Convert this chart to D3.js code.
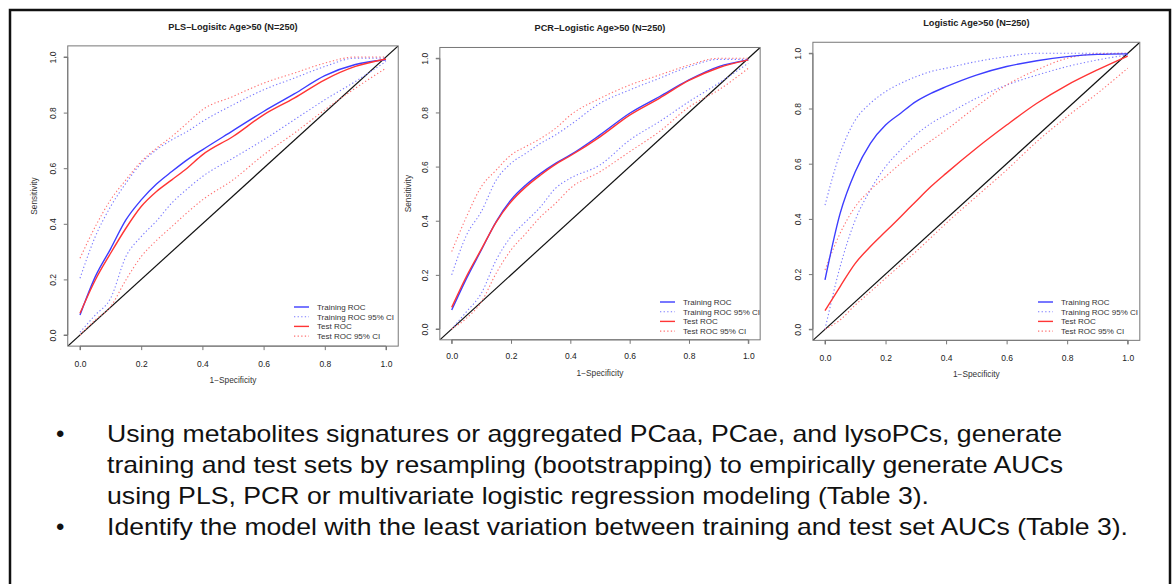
<!DOCTYPE html>
<html>
<head>
<meta charset="utf-8">
<script src="https://cdn.jsdelivr.net/npm/d3@7"></script>
<style>
  body { margin: 0; background: #fff; }
  svg { display: block; }
</style>
</head>
<body>
<svg id="chart" width="1173" height="584"></svg>
<script>
// false positive rate grid shared by every curve
const fpr = [0, 0.05, 0.1, 0.15, 0.2, 0.25, 0.3, 0.35, 0.4, 0.5, 0.6, 0.7, 0.8, 0.9, 1.0];
const ticks = [0, 0.2, 0.4, 0.6, 0.8, 1.0];

const titles = ["PLS\u2013Logisitc Age>50 (N=250)", "PCR\u2013Logistic Age>50 (N=250)", "Logistic Age>50 (N=250)"];
const legendLabels = ["Training ROC", "Training ROC 95% CI", "Test ROC", "Test ROC 95% CI"];

// PLS-logistic
const plsTrain   = [0.072, 0.21, 0.31, 0.414, 0.486, 0.543, 0.588, 0.63, 0.666, 0.735, 0.804, 0.867, 0.933, 0.973, 0.99];
const plsTest    = [0.078, 0.198, 0.294, 0.384, 0.462, 0.516, 0.558, 0.6, 0.648, 0.714, 0.792, 0.852, 0.918, 0.966, 0.993];
const plsTrainHi = [0.204, 0.354, 0.462, 0.546, 0.618, 0.666, 0.702, 0.732, 0.768, 0.828, 0.882, 0.924, 0.966, 0.996, 0.996];
const plsTrainLo = [0.01, 0.072, 0.132, 0.282, 0.354, 0.41, 0.475, 0.525, 0.57, 0.636, 0.702, 0.774, 0.846, 0.912, 0.984];
const plsTestHi  = [0.276, 0.39, 0.486, 0.558, 0.624, 0.672, 0.714, 0.762, 0.81, 0.858, 0.906, 0.942, 0.978, 1.0, 1.0];
const plsTestLo  = [0.0, 0.054, 0.102, 0.198, 0.282, 0.34, 0.39, 0.44, 0.486, 0.558, 0.648, 0.726, 0.81, 0.888, 0.96];

// PCR-logistic
const pcrTrain   = [0.07, 0.187, 0.292, 0.397, 0.477, 0.532, 0.575, 0.612, 0.643, 0.717, 0.797, 0.858, 0.92, 0.969, 0.994];
const pcrTest    = [0.08, 0.195, 0.295, 0.395, 0.47, 0.525, 0.569, 0.608, 0.64, 0.71, 0.79, 0.852, 0.918, 0.965, 0.994];
const pcrTrainHi = [0.2, 0.347, 0.434, 0.55, 0.612, 0.649, 0.686, 0.717, 0.754, 0.834, 0.883, 0.926, 0.969, 0.996, 0.996];
const pcrTrainLo = [0.0, 0.064, 0.132, 0.255, 0.341, 0.397, 0.452, 0.52, 0.557, 0.606, 0.698, 0.766, 0.84, 0.908, 0.982];
const pcrTestHi  = [0.286, 0.415, 0.526, 0.587, 0.643, 0.674, 0.704, 0.741, 0.79, 0.852, 0.901, 0.938, 0.975, 1.0, 1.0];
const pcrTestLo  = [0.0, 0.04, 0.1, 0.206, 0.292, 0.353, 0.415, 0.464, 0.52, 0.581, 0.655, 0.729, 0.82, 0.883, 0.963];

// multivariate logistic
const logTrain   = [0.179, 0.42, 0.571, 0.674, 0.74, 0.783, 0.825, 0.855, 0.879, 0.921, 0.952, 0.973, 0.988, 0.996, 0.998];
const logTest    = [0.068, 0.155, 0.239, 0.3, 0.354, 0.408, 0.463, 0.517, 0.565, 0.656, 0.74, 0.819, 0.885, 0.94, 0.99];
const logTrainHi = [0.45, 0.638, 0.758, 0.819, 0.861, 0.891, 0.915, 0.934, 0.946, 0.97, 0.988, 1.0, 1.0, 1.0, 1.0];
const logTrainLo = [0.0, 0.227, 0.396, 0.505, 0.589, 0.65, 0.704, 0.746, 0.777, 0.837, 0.885, 0.921, 0.952, 0.976, 0.994];
const logTestHi  = [0.215, 0.348, 0.444, 0.505, 0.553, 0.601, 0.644, 0.683, 0.722, 0.807, 0.885, 0.94, 0.982, 0.998, 1.0];
const logTestLo  = [0.0, 0.034, 0.088, 0.136, 0.185, 0.233, 0.281, 0.332, 0.384, 0.481, 0.577, 0.68, 0.771, 0.855, 0.946];

const bullets = [
  ["Using metabolites signatures or aggregated PCaa, PCae, and lysoPCs, generate",
   "training and test sets by resampling (bootstrapping) to empirically generate AUCs",
   "using PLS, PCR or multivariate logistic regression modeling (Table 3)."],
  ["Identify the model with the least variation between training and test set AUCs (Table 3)."]
];

const blue = "#3d3dff", red = "#ff3535";
const blueCI = "#7a7aff", redCI = "#ff7070";

// pixel spots of 0 and 1 on each panel's axes
const panels = [
  { title: titles[0], x0: 80, x1: 386, y0: 335, y1: 57, titleY: 30, ylabX: 34, xlabY: 383, tickLabX: 53, tickLabY: 364,
    legX: 294, legY: 307, series: [plsTrain, plsTrainHi, plsTrainLo, plsTest, plsTestHi, plsTestLo] },
  { title: titles[1], x0: 451.7, x1: 748.3, y0: 329, y1: 58.3, titleY: 31, ylabX: 408, xlabY: 376, tickLabX: 425, tickLabY: 356,
    legX: 660, legY: 302, series: [pcrTrain, pcrTrainHi, pcrTrainLo, pcrTest, pcrTestHi, pcrTestLo] },
  { title: titles[2], x0: 825, x1: 1127.7, y0: 329.3, y1: 53.3, titleY: 26, ylabX: 781, xlabY: 377, tickLabX: 798, tickLabY: 358,
    legX: 1038, legY: 302, series: [logTrain, logTrainHi, logTrainLo, logTest, logTestHi, logTestLo], clipYlab: true }
];

const svg = d3.select("#chart");
const font = "'Liberation Sans', Arial, sans-serif";

// outer slide frame
svg.append("path")
  .attr("d", "M10,600 L10,10 L1170,10 L1170,600")
  .attr("fill", "none").attr("stroke", "#111").attr("stroke-width", 2.5);

const styles = [
  { color: blue, dash: null, w: 1.4 },
  { color: blueCI, dash: "1.3,2.3", w: 1.1 },
  { color: blueCI, dash: "1.3,2.3", w: 1.1 },
  { color: red, dash: null, w: 1.4 },
  { color: redCI, dash: "1.3,2.3", w: 1.1 },
  { color: redCI, dash: "1.3,2.3", w: 1.1 }
];

panels.forEach((p, pi) => {
  const x = d3.scaleLinear().domain([0, 1]).range([p.x0, p.x1]);
  const y = d3.scaleLinear().domain([0, 1]).range([p.y0, p.y1]);
  const g = svg.append("g");
  const bx0 = x(-0.04), bx1 = x(1.04), by0 = y(-0.04), by1 = y(1.04);

  g.append("clipPath").attr("id", "clip" + pi)
    .append("rect").attr("x", bx0).attr("y", by1).attr("width", bx1 - bx0).attr("height", by0 - by1);

  const plot = g.append("g").attr("clip-path", `url(#clip${pi})`);

  // chance line
  plot.append("line")
    .attr("x1", x(-0.04)).attr("y1", y(-0.04)).attr("x2", x(1.04)).attr("y2", y(1.04))
    .attr("stroke", "#111").attr("stroke-width", 1.2);

  const line = d3.line().x((d, i) => x(fpr[i])).y(d => y(d)).curve(d3.curveMonotoneX);

  // draw CI first, then solid curves on top
  [1, 2, 4, 5, 0, 3].forEach(k => {
    plot.append("path")
      .attr("d", line(p.series[k]))
      .attr("fill", "none")
      .attr("stroke", styles[k].color)
      .attr("stroke-width", styles[k].w)
      .attr("stroke-dasharray", styles[k].dash);
  });

  // box
  g.append("rect").attr("x", bx0).attr("y", by1).attr("width", bx1 - bx0).attr("height", by0 - by1)
    .attr("fill", "none").attr("stroke", "#777").attr("stroke-width", 1);

  // x axis
  const xa = g.append("g").attr("transform", `translate(0,${by0})`)
    .call(d3.axisBottom(x).tickValues(ticks).tickFormat(d3.format(".1f")).tickSize(4).tickPadding(6));
  xa.select(".domain").attr("stroke", "#777").attr("d", `M${x(0)},4V0H${x(1)}V4`);
  xa.selectAll(".tick line").attr("stroke", "#777");
  xa.selectAll("text").attr("font-family", font).attr("font-size", 8.5).attr("fill", "#222")
    .attr("y", null).attr("dy", null)
    .attr("transform", `translate(0,${p.tickLabY - by0 + 3})`);

  // y axis, labels rotated like base R
  const ya = g.append("g").attr("transform", `translate(${bx0},0)`)
    .call(d3.axisLeft(y).tickValues(ticks).tickFormat(d3.format(".1f")).tickSize(4));
  ya.select(".domain").attr("stroke", "#777").attr("d", `M-4,${y(0)}H0V${y(1)}H-4`);
  ya.selectAll(".tick line").attr("stroke", "#777");
  ya.selectAll("text").attr("font-family", font).attr("font-size", 8.5).attr("fill", "#222")
    .attr("x", null).attr("dy", null).attr("text-anchor", "middle")
    .attr("transform", `translate(${p.tickLabX - bx0 + 3},0) rotate(-90)`);

  // title
  g.append("text").attr("x", (bx0 + bx1) / 2).attr("y", p.titleY)
    .attr("text-anchor", "middle").attr("font-family", font).attr("font-weight", "bold")
    .attr("font-size", 9.2).attr("fill", "#222").text(p.title);

  // axis titles
  g.append("text").attr("x", (bx0 + bx1) / 2).attr("y", p.xlabY)
    .attr("text-anchor", "middle").attr("font-family", font).attr("font-size", 8.3)
    .attr("fill", "#333").text("1\u2212Specificity");

  const ylab = g.append("text")
    .attr("transform", `translate(${p.ylabX + 3},${y(0.5)}) rotate(-90)`)
    .attr("text-anchor", "middle").attr("font-family", font).attr("font-size", p.clipYlab ? 5 : 8.3)
    .attr("fill", "#333").text("Sensitivity");
  if (p.clipYlab) {
    g.append("clipPath").attr("id", "ylclip")
      .append("rect").attr("x", p.ylabX - 1).attr("y", 0).attr("width", 20).attr("height", 400);
    ylab.attr("clip-path", "url(#ylclip)");
  }

  // legend
  const leg = g.append("g");
  [0, 1, 3, 4].forEach((k, r) => {
    const ly = p.legY + r * 9.7;
    leg.append("line").attr("x1", p.legX).attr("x2", p.legX + 15).attr("y1", ly).attr("y2", ly)
      .attr("stroke", styles[k].color).attr("stroke-width", styles[k].w)
      .attr("stroke-dasharray", styles[k].dash);
    leg.append("text").attr("x", p.legX + 23).attr("y", ly + 3)
      .attr("font-family", font).attr("font-size", 8).attr("fill", "#333")
      .text(legendLabels[r]);
  });
});

// bullet text, stretched to the slide's line widths
const lineY = [442, 473, 504, 535];
const lineEnd = [1062, 1063, 929, 1128];
let li = 0;
bullets.forEach(b => {
  svg.append("text").attr("x", 56).attr("y", lineY[li]).attr("font-family", font)
    .attr("font-size", 24).attr("fill", "#111").text("\u2022");
  b.forEach(t => {
    svg.append("text").attr("x", 107).attr("y", lineY[li]).attr("font-family", font)
      .attr("font-size", 24).attr("fill", "#111")
      .attr("textLength", lineEnd[li] - 107).attr("lengthAdjust", "spacingAndGlyphs")
      .text(t);
    li++;
  });
});
</script>
</body>
</html>
